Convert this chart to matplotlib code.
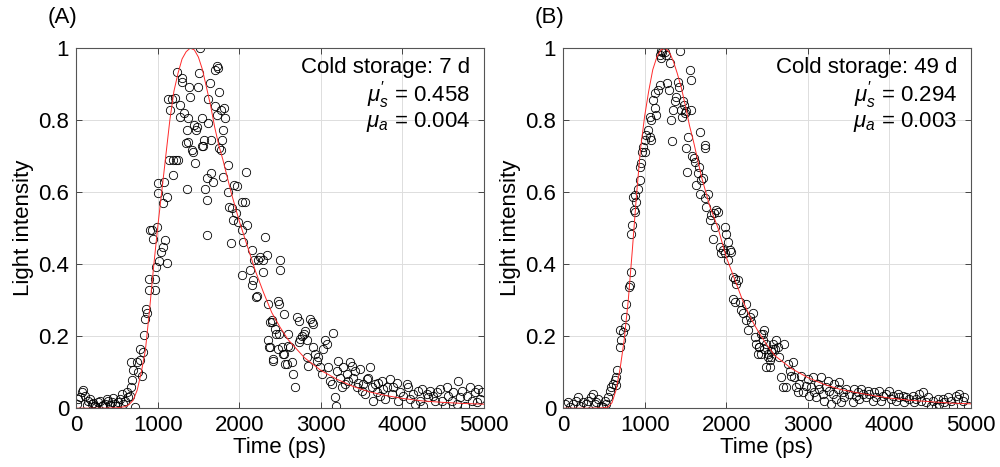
import numpy as np
import matplotlib
matplotlib.use('Agg')
import matplotlib.pyplot as plt

plt.rcParams['font.family'] = ['Liberation Sans', 'DejaVu Sans']
plt.rcParams['mathtext.fontset'] = 'custom'
plt.rcParams['mathtext.it'] = 'Liberation Sans:italic'
plt.rcParams['mathtext.rm'] = 'Liberation Sans'

# panel A measured points (time in ps, normalised intensity)
a_t = [8, 49, 90, 110, 151, 192, 233, 273, 314, 355, 396, 437, 478, 518, 559, 600, 641, 673, 722,
       682, 702, 673, 743, 784, 763, 804, 784, 824, 833, 845, 865, 857, 894, 967, 894, 967, 906, 927,
       947, 988, 1037, 1061, 1090, 1110, 980, 1020, 1000, 1008, 1069, 1110, 1082, 1184, 1143, 1192, 1224,
       1253, 1131, 1171, 1151, 1212, 1233, 1294, 1294, 1273, 1273, 1322, 1376, 1388, 1396, 1355, 1347,
       1376, 1429, 1416, 1355, 1457, 1445, 1478, 1469, 1518, 1510, 1498, 1539, 1547, 1567, 1559, 1580,
       1600, 1600, 1620, 1620, 1657, 1641, 1600, 1657, 1682, 1702, 1731, 1743, 1702, 1722, 1755, 1776,
       1816, 1829, 1755, 1776, 1796, 1788, 1857, 1796, 1894, 1857, 1878, 1910, 1939, 1967, 1918, 1959,
       1988, 2029, 2069, 2029, 2049, 2090, 2082, 2151, 2180, 2029, 2131, 2163, 2151, 2212, 2233, 2253,
       2294, 2314, 2335, 2286, 2220, 2355, 2376, 2396, 2457, 2478, 2498, 2498, 2355, 2376, 2416, 2478,
       2539, 2559, 2600,
       2371, 2420, 2400, 2441, 2482, 2482, 2551, 2522, 2547, 2584, 2604, 2624, 2645, 2665, 2686, 2706,
       2727, 2727, 2747, 2767, 2788, 2808, 2829, 2829, 2849, 2869, 2890, 2902, 2910, 2931, 2951, 2971,
       2992, 3012, 3033, 3053, 3073, 3094, 3114, 3135, 3155, 3176, 3188, 3196, 3216, 3237, 3257, 3278,
       3298, 3318, 3339, 3359, 3380, 3400, 3420, 3441, 3461, 3482, 3502, 3522, 3543, 3563, 3584, 3604,
       3624, 3645, 3665, 3686, 3706, 3727, 3747, 3767, 3788, 3808, 3849, 3869, 3890, 3931, 3951, 3971,
       4012, 4053, 4073, 4094, 4135, 4155, 4196, 4216, 4237, 4257, 4298, 4318, 4339, 4380, 4400, 4420,
       4461, 4482, 4522, 4543, 4563, 4604, 4624, 4665, 4686, 4706, 4727, 4767, 4788, 4829, 4849, 4890,
       4910, 4931, 4951, 4971,
       30, 70, 130, 170, 210, 250, 290, 335, 375, 415, 455, 500, 540, 580, 620, 660]
a_v = [0.012, 0.03, 0.05, 0.035, 0.02, 0.012, 0.007, 0.017, 0.007, 0.012, 0.02, 0.017, 0.012, 0.017,
       0.04, 0.02, 0.03, 0.058, 0.003,
       0.077, 0.105, 0.128, 0.128, 0.133, 0.1, 0.09, 0.165, 0.156, 0.202, 0.249, 0.263, 0.276, 0.327,
       0.327, 0.36, 0.36, 0.494, 0.496, 0.471, 0.504, 0.434, 0.448, 0.467, 0.404, 0.392, 0.409, 0.624,
       0.598, 0.571, 0.587, 0.629, 0.648, 0.689, 0.689, 0.689, 0.689, 0.859, 0.859, 0.828, 0.861, 0.935,
       0.917, 0.907, 0.842, 0.81, 0.819, 0.805, 0.893, 0.863, 0.773, 0.736, 0.74, 0.712, 0.717, 0.61,
       0.68, 0.787, 0.782, 0.773, 1.0, 0.93, 0.893, 0.805, 0.728, 0.745, 0.727, 0.61, 0.578, 0.48, 0.858,
       0.791, 0.745, 0.903, 0.638, 0.652, 0.629, 0.94, 0.949, 0.944, 0.838, 0.815, 0.879, 0.828, 0.835,
       0.805, 0.722, 0.717, 0.773, 0.745, 0.675, 0.643, 0.459, 0.601, 0.559, 0.555, 0.62, 0.617, 0.522,
       0.541, 0.518, 0.573, 0.573, 0.494, 0.462, 0.508, 0.657, 0.439, 0.411, 0.369, 0.383, 0.355, 0.341,
       0.309, 0.411, 0.42, 0.411, 0.476, 0.425, 0.378, 0.311, 0.29, 0.239, 0.244, 0.207, 0.297, 0.411,
       0.385, 0.188, 0.17, 0.137, 0.165, 0.151, 0.123, 0.174,
       0.169, 0.132, 0.239, 0.22, 0.206, 0.29, 0.262, 0.169, 0.15, 0.123, 0.206, 0.169, 0.127, 0.095,
       0.058, 0.253, 0.243, 0.183, 0.192, 0.201, 0.206, 0.215, 0.188, 0.141, 0.118, 0.248, 0.239, 0.234,
       0.169, 0.15, 0.132, 0.141, 0.113, 0.095, 0.164, 0.188, 0.178, 0.113, 0.076, 0.067, 0.208, 0.03,
       0.006, 0.104, 0.132, 0.085, 0.058, 0.113, 0.067, 0.095, 0.076, 0.127, 0.118, 0.085, 0.104, 0.058,
       0.071, 0.109, 0.048, 0.067, 0.039, 0.081, 0.085, 0.113, 0.058, 0.02, 0.067, 0.044, 0.071, 0.034,
       0.076, 0.053, 0.025, 0.058, 0.081, 0.039, 0.058, 0.071, 0.02, 0.044, 0.034, 0.067, 0.058, 0.025,
       0.039, 0.011, 0.048, 0.02, 0.053, 0.006, 0.039, 0.03, 0.048, 0.034, 0.02, 0.044, 0.053, 0.02,
       0.006, 0.058, 0.034, 0.02, 0.044, 0.011, 0.076, 0.03, 0.048, 0.006, 0.034, 0.058, 0.02, 0.044,
       0.016, 0.053, 0.025, 0.044,
       0.025, 0.045, 0.008, 0.025, 0.015, 0.003, 0.02, 0.01, 0.025, 0.008, 0.028, 0.005, 0.025, 0.012,
       0.045, 0.035]

# panel A fitted curve
a_fit_t = [0, 300, 500, 600, 650, 700, 750, 800, 850, 900, 950, 1000, 1050, 1100, 1150, 1200, 1250,
           1300, 1350, 1400, 1450, 1500, 1550, 1600, 1650, 1700, 1750, 1800, 1900, 2000, 2100, 2200,
           2300, 2400, 2500, 2600, 2800, 3000, 3200, 3400, 3600, 3800, 4000, 4250, 4500, 4750, 5000]
a_fit_v = [0, 0, 0.001, 0.004, 0.01, 0.022, 0.05, 0.1, 0.16, 0.27, 0.39, 0.5, 0.6, 0.7, 0.8, 0.88,
           0.93, 0.97, 0.99, 1.0, 0.995, 0.975, 0.94, 0.89, 0.84, 0.78, 0.73, 0.69, 0.6, 0.52, 0.45,
           0.38, 0.32, 0.265, 0.225, 0.19, 0.14, 0.105, 0.08, 0.06, 0.045, 0.035, 0.027, 0.02, 0.016,
           0.013, 0.011]

# panel B measured points
b_t = [20, 61, 82, 122, 163, 184, 204, 245, 286, 306, 347, 367, 388, 408, 429, 469, 490, 510, 531,
       551, 571, 592, 612, 633, 645, 665, 653,
       694, 714, 694, 735, 755, 763, 776, 804, 816, 837, 837, 845, 869, 878, 898, 857, 886, 918, 939,
       939, 959, 967, 980, 1000, 1000, 1020, 1041, 1061, 1082, 1061, 1082, 1102, 1122, 1143, 1122, 1163,
       1184, 1196, 1212, 1184, 1204, 1245, 1265, 1306, 1278, 1294, 1327, 1335, 1347, 1367, 1388, 1408,
       1429, 1416, 1441, 1457, 1469, 1482, 1490, 1510, 1531, 1551, 1563, 1571, 1510, 1522, 1580, 1604,
       1612, 1653, 1661, 1673, 1633, 1673, 1694, 1714, 1735, 1743, 1735, 1755, 1776, 1796, 1816, 1837,
       1857, 1849, 1878, 1898, 1918, 1939, 1959, 1980, 2000, 2020, 1980, 2020, 2041, 2061, 2082, 2102,
       2122, 2143, 2082, 2102, 2163, 2184, 2204, 2245, 2265, 2286, 2306, 2327, 2245, 2347, 2367, 2388,
       2408, 2429, 2449, 2469, 2510, 2490, 2531, 2551, 2571,
       2408, 2429, 2449, 2469, 2490, 2510, 2531, 2551, 2571, 2592, 2612, 2633, 2653, 2673, 2694, 2714,
       2735, 2755, 2776, 2796, 2816, 2837, 2857, 2878, 2898, 2918, 2939, 2980, 3000, 3020, 3041, 3061,
       3082, 3102, 3122, 3143, 3163, 3184, 3204, 3224, 3245, 3265, 3286, 3306, 3327, 3347, 3367, 3388,
       3408, 3429, 3449, 3469, 3510, 3551, 3571, 3592, 3612, 3633, 3653, 3673, 3714, 3735, 3755, 3796,
       3816, 3837, 3878, 3898, 3918, 3959, 4000, 4020, 4041, 4082, 4102, 4122, 4163, 4184, 4204, 4245,
       4286, 4306, 4327, 4367, 4388, 4408, 4449, 4469, 4510, 4531, 4571, 4592, 4612, 4653, 4673, 4714,
       4755, 4776, 4816, 4837, 4857, 4898, 4918, 4959]
b_v = [0.012, 0.017, 0.003, 0.012, 0.021, 0.031, 0.007, 0.017, 0.012, 0.021, 0.031, 0.04, 0.012,
       0.017, 0.026, 0.007, 0.003, 0.021, 0.012, 0.031, 0.049, 0.058, 0.068, 0.077, 0.086, 0.105, 0.063,
       0.17, 0.188, 0.216, 0.212, 0.225, 0.253, 0.29, 0.337, 0.341, 0.378, 0.485, 0.508, 0.55, 0.545,
       0.573, 0.587, 0.592, 0.61, 0.634, 0.671, 0.68, 0.712, 0.726, 0.712, 0.745, 0.759, 0.773, 0.81,
       0.801, 0.754, 0.745, 0.856, 0.875, 0.815, 0.833, 0.884, 0.898, 0.993, 0.988, 0.981, 0.972, 0.988,
       0.981, 0.96, 0.903, 0.884, 0.801, 0.743, 0.828, 0.852, 0.865, 0.907, 0.991, 0.893, 0.828, 0.81,
       0.852, 0.842, 0.819, 0.824, 0.754, 0.94, 0.912, 0.828, 0.722, 0.657, 0.7, 0.694, 0.685, 0.652,
       0.671, 0.768, 0.62, 0.596, 0.634, 0.638, 0.731, 0.722, 0.583, 0.559, 0.596, 0.522, 0.536, 0.471,
       0.504, 0.541, 0.55, 0.545, 0.448, 0.43, 0.439, 0.504, 0.485, 0.462, 0.43, 0.411, 0.439, 0.434,
       0.365, 0.36, 0.346, 0.355, 0.304, 0.295, 0.295, 0.272, 0.263, 0.29, 0.216, 0.253, 0.239, 0.263,
       0.244, 0.198, 0.179, 0.151, 0.17, 0.207, 0.188, 0.165, 0.151, 0.114, 0.133, 0.142, 0.165,
       0.169, 0.151, 0.207, 0.216, 0.179, 0.141, 0.113, 0.16, 0.179, 0.165, 0.188, 0.169, 0.141, 0.086,
       0.058, 0.179, 0.058, 0.123, 0.104, 0.09, 0.127, 0.086, 0.058, 0.044, 0.067, 0.09, 0.044, 0.062,
       0.081, 0.034, 0.058, 0.086, 0.044, 0.03, 0.067, 0.053, 0.086, 0.039, 0.02, 0.058, 0.076, 0.048,
       0.011, 0.039, 0.067, 0.025, 0.053, 0.072, 0.016, 0.044, 0.03, 0.053, 0.039, 0.016, 0.053, 0.034,
       0.044, 0.025, 0.053, 0.039, 0.03, 0.048, 0.039, 0.02, 0.044, 0.03, 0.048, 0.02, 0.034, 0.039,
       0.048, 0.025, 0.034, 0.02, 0.039, 0.03, 0.034, 0.016, 0.03, 0.025, 0.034, 0.016, 0.025, 0.039,
       0.02, 0.044, 0.016, 0.03, 0.007, 0.02, 0.002, 0.025, 0.011, 0.025, 0.016, 0.03, 0.02, 0.007,
       0.034, 0.025, 0.039, 0.02, 0.03, 0.007]

b_fit_t = [0, 300, 500, 550, 600, 650, 700, 750, 800, 850, 900, 950, 1000, 1050, 1100, 1150, 1200,
           1250, 1300, 1350, 1400, 1450, 1500, 1550, 1600, 1650, 1700, 1800, 1900, 2000, 2100, 2200,
           2300, 2400, 2500, 2600, 2800, 3000, 3200, 3400, 3600, 3800, 4000, 4250, 4500, 4750, 5000]
b_fit_v = [0, 0, 0.001, 0.003, 0.015, 0.05, 0.11, 0.19, 0.3, 0.44, 0.59, 0.72, 0.81, 0.88, 0.94,
           0.975, 0.995, 1.0, 0.99, 0.965, 0.93, 0.89, 0.84, 0.785, 0.74, 0.69, 0.64, 0.56, 0.5, 0.42,
           0.36, 0.3, 0.25, 0.21, 0.175, 0.145, 0.11, 0.085, 0.066, 0.052, 0.043, 0.035, 0.028, 0.022,
           0.018, 0.014, 0.012]

panels = [
    ('(A)', a_t, a_v, a_fit_t, a_fit_v, 'Cold storage: 7 d', '0.458', '0.004'),
    ('(B)', b_t, b_v, b_fit_t, b_fit_v, 'Cold storage: 49 d', '0.294', '0.003'),
]

fs = 16
fig = plt.figure(figsize=(10, 4.67), dpi=100)
lefts = [0.076, 0.563]

for left, (tag, t, v, ft, fv, storage, mus, mua) in zip(lefts, panels):
    ax = fig.add_axes([left, 0.126, 0.408, 0.771])
    ax.plot(t, v, 'o', mfc='none', mec='black', ms=6, mew=0.6)
    ax.plot(ft, fv, color='#ff2a2a', lw=0.7)
    ax.set_xlim(0, 5000)
    ax.set_ylim(0, 1)
    ax.set_xticks([0, 1000, 2000, 3000, 4000, 5000])
    ax.set_yticks([0, 0.2, 0.4, 0.6, 0.8, 1])
    ax.set_yticklabels(['0', '0.2', '0.4', '0.6', '0.8', '1'])
    ax.grid(True, color='#dddddd', lw=0.7)
    ax.set_axisbelow(True)
    ax.tick_params(direction='in', top=True, right=True, labelsize=fs, length=4,
                   color='#444444', width=0.7, pad=5)
    for s in ax.spines.values():
        s.set_color('#555555')
        s.set_linewidth(0.8)
    ax.set_xlabel('Time (ps)', fontsize=fs, labelpad=1)
    ax.set_ylabel('Light intensity', fontsize=fs, labelpad=3)
    ax.text(0.966, 0.946, storage, transform=ax.transAxes, ha='right', va='center', fontsize=fs)
    ax.text(0.966, 0.87, r"$\mu_s^{\prime}$ = " + mus, transform=ax.transAxes, ha='right',
            va='center', fontsize=fs)
    ax.text(0.966, 0.795, r"$\mu_a$ = " + mua, transform=ax.transAxes, ha='right', va='center',
            fontsize=fs)
    fig.text(left - 0.028, 0.962, tag, ha='left', va='center', fontsize=fs)

plt.savefig('out.png', dpi=100)
